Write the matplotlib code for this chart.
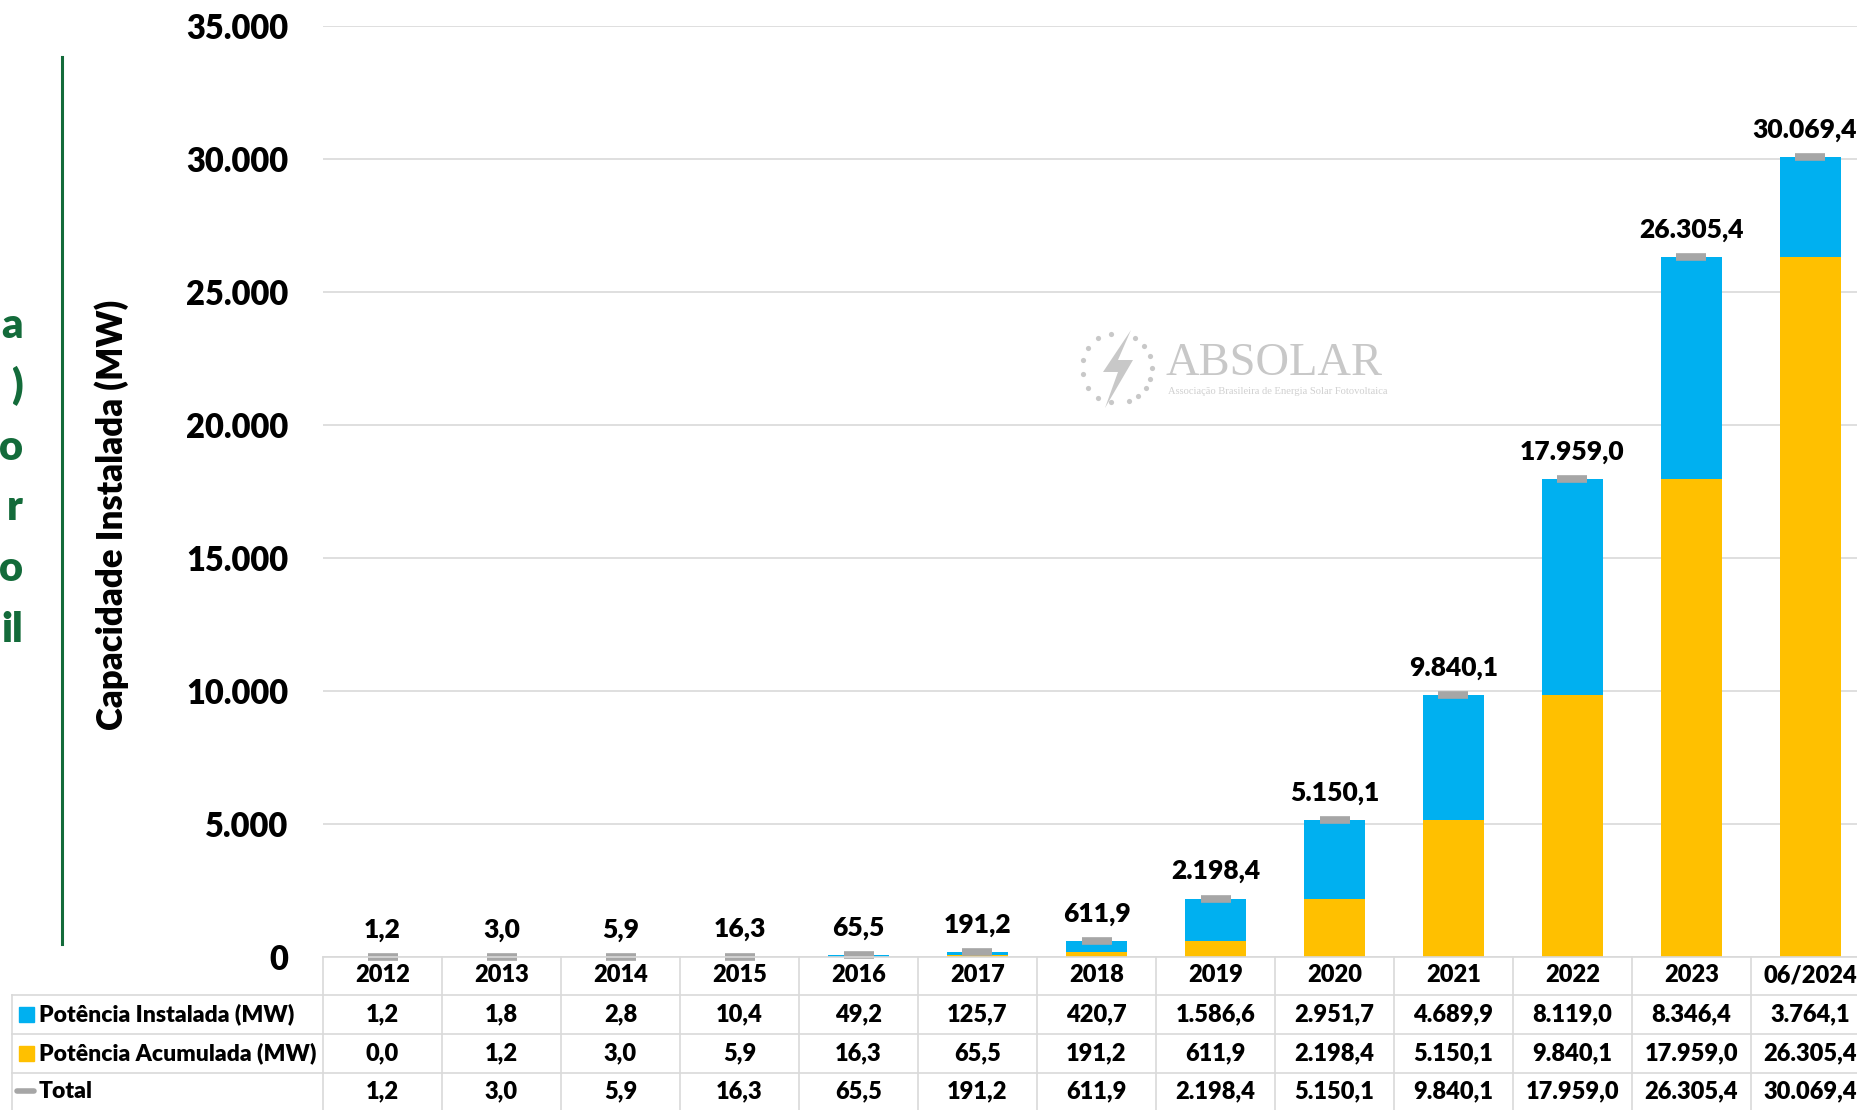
import numpy as np
import matplotlib
matplotlib.use('Agg')
import matplotlib.pyplot as plt
from matplotlib.transforms import blended_transform_factory
from matplotlib.patches import Rectangle, Polygon

# data
years = ['2012', '2013', '2014', '2015', '2016', '2017', '2018',
         '2019', '2020', '2021', '2022', '2023', '06/2024']
instalada = [1.2, 1.8, 2.8, 10.4, 49.2, 125.7, 420.7, 1586.6, 2951.7,
             4689.9, 8119.0, 8346.4, 3764.1]
acumulada = [0.0, 1.2, 3.0, 5.9, 16.3, 65.5, 191.2, 611.9, 2198.4,
             5150.1, 9840.1, 17959.0, 26305.4]
total = [1.2, 3.0, 5.9, 16.3, 65.5, 191.2, 611.9, 2198.4, 5150.1,
         9840.1, 17959.0, 26305.4, 30069.4]
row_names = ['Potência Instalada (MW)', 'Potência Acumulada (MW)', 'Total']
y_ticks = [0, 5000, 10000, 15000, 20000, 25000, 30000, 35000]
# only the line endings of the side title are visible in the source
side_title = ['a', ')', 'o', 'r', 'o', 'il']

BLUE = '#00B0F0'
GOLD = '#FFC000'
GREY = '#A6A6A6'
GRID = '#D9D9D9'
GREEN = '#136B3A'
LOGO = '#C8C8C8'
WT = 'heavy'

W, H = 1857, 1110


def br(v, dec=1):
	s = f'{v:,.{dec}f}'
	return s.replace(',', 'X').replace('.', ',').replace('X', '.')


plt.rcParams['font.family'] = ['Lato', 'DejaVu Sans']
fig = plt.figure(figsize=(W/100, H/100), dpi=100)

# main chart (runs a bit past the right edge, as in the source)
ax = fig.add_axes([323/W, (H-957)/H, (1870-323)/W, (957-26)/H])
ax.patch.set_visible(False)
x = np.arange(len(years))
ax.bar(x, acumulada, width=0.51, color=GOLD, zorder=2)
ax.bar(x, instalada, bottom=acumulada, width=0.51, color=BLUE, zorder=2)
ax.plot(x, total, ls='none', marker='_', ms=21, mew=5.5, color=GREY, zorder=3, clip_on=False)
for i, t in enumerate(total):
	# last label nudged left so it stays inside the frame
	dx = -4 if i == len(total)-1 else 0
	ax.annotate(br(t), (i, t), xytext=(dx, 14), textcoords='offset points',
				ha='center', va='baseline', fontsize=19, fontweight=WT)
ax.set_xlim(-0.5, len(years)-0.5)
ax.set_ylim(0, 35000)
ax.set_yticks(y_ticks)
ax.set_yticklabels([br(v, 0) for v in y_ticks], fontsize=23.5, fontweight=WT)
ax.tick_params(axis='y', length=0, pad=25)
ax.set_xticks([])
ax.grid(axis='y', color=GRID, lw=1.2, zorder=0)
for s in ax.spines.values():
	s.set_visible(False)

# overlay in pixel coords for table, titles and watermark
over = fig.add_axes([0, 0, 1, 1], zorder=5)
over.set_xlim(0, W)
over.set_ylim(H, 0)
over.axis('off')
tr = blended_transform_factory(ax.transData, over.transData)

# table grid
row_y = [975, 1014, 1053, 1091]
over.plot([-0.5, len(years)-0.5], [957, 957], color=GRID, lw=1.2, transform=tr, clip_on=False)
for yb in [995, 1034, 1073]:
	over.plot([12, W], [yb, yb], color=GRID, lw=1.2)
over.plot([12, 12], [995, H], color=GRID, lw=1.2)
for i in range(len(years)+1):
	over.plot([i-0.5, i-0.5], [957, H], color=GRID, lw=1.2, transform=tr, clip_on=False)

for i, yr in enumerate(years):
	over.text(i, row_y[0], yr, transform=tr, ha='center', va='center', fontsize=17, fontweight=WT)
	for r, vals in enumerate([instalada, acumulada, total]):
		over.text(i, row_y[r+1], br(vals[i]), transform=tr, ha='center', va='center',
				  fontsize=17, fontweight=WT)

# row labels with legend keys
over.add_patch(Rectangle((19, row_y[1]-7.5), 15, 15, color=BLUE))
over.add_patch(Rectangle((19, row_y[2]-7.5), 15, 15, color=GOLD))
over.plot([17, 34], [row_y[3], row_y[3]], color=GREY, lw=4, solid_capstyle='round')
for r, name in enumerate(row_names):
	over.text(39, row_y[r+1], name, ha='left', va='center', fontsize=16.5, fontweight=WT)

# axis title
over.text(112, 515, 'Capacidade Instalada (MW)', rotation=90, ha='center', va='center',
		  fontsize=25, fontweight=WT)

# green side title (only its line endings show in the source)
over.plot([62, 62], [57, 944], color=GREEN, lw=2.2)
for k, line in enumerate(side_title):
	over.text(23, 338 + 60.8*k, line, ha='right', va='baseline', color=GREEN,
			  fontsize=30, fontweight=WT)

# ABSOLAR watermark
cx, cy, rad = 1117, 368, 35
ang = np.deg2rad(np.concatenate([np.linspace(100, 190, 5), np.linspace(215, 260, 3),
								 np.linspace(290, 360, 5), np.linspace(20, 60, 3)]))
over.scatter(cx + rad*np.cos(ang), cy - rad*np.sin(ang), s=14, color=LOGO, lw=0)
bolt = [(cx+14, cy-38), (cx-14, cy+4), (cx+1, cy+4), (cx-12, cy+40), (cx+16, cy-8), (cx+1, cy-8)]
over.add_patch(Polygon(bolt, closed=True, color=LOGO, lw=0))
over.text(1166, 375, 'ABSOLAR', ha='left', va='baseline', color=LOGO,
		  fontsize=33.5, family='Liberation Serif')
over.text(1168, 391, 'Associação Brasileira de Energia Solar Fotovoltaica', ha='left',
		  va='center', color='#D0D0D0', fontsize=7.6, family='Liberation Serif')

fig.savefig('out.png', dpi=100)
